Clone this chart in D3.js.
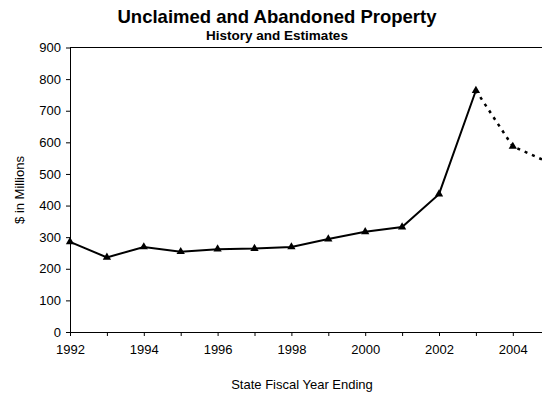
<!DOCTYPE html>
<html>
<head>
<meta charset="utf-8">
<script src="https://cdn.jsdelivr.net/npm/d3@7"></script>
<style>
  body { margin: 0; background: #fff; }
  svg { display: block; font-family: "Liberation Sans", Arial, sans-serif; }
</style>
</head>
<body>
<div id="chart"></div>
<script>
// values ($ millions)
var years = [1992, 1993, 1994, 1995, 1996, 1997, 1998, 1999, 2000, 2001, 2002, 2003];
var actual = [285, 236, 269, 254, 262, 264, 269, 294, 317, 332, 436, 764];
var estYears = [2003, 2004, 2005];
var estimate = [764, 587, 535];
var yTicks = [0, 100, 200, 300, 400, 500, 600, 700, 800, 900];
var xLabels = [1992, 1994, 1996, 1998, 2000, 2002, 2004];

var W = 542, H = 395;
var margin = {top: 47.5, left: 70, bottom: 63};

var svg = d3.select("#chart").append("svg")
    .attr("width", W)
    .attr("height", H);

var x = d3.scaleLinear()
    .domain([1992, 2005])
    .range([margin.left, margin.left + 13 * 36.9]);

var y = d3.scaleLinear()
    .domain([0, 900])
    .range([H - margin.bottom, margin.top]);

// top border of plot area
svg.append("line")
    .attr("x1", x(1992)).attr("x2", W)
    .attr("y1", y(900)).attr("y2", y(900))
    .attr("stroke", "#000").attr("stroke-width", 1);

var yAxis = svg.append("g")
    .attr("transform", "translate(" + x(1992) + ",0)")
    .call(d3.axisLeft(y).tickValues(yTicks).tickSize(4).tickPadding(5).tickSizeOuter(0));

var xAxis = svg.append("g")
    .attr("transform", "translate(0," + y(0) + ")")
    .call(d3.axisBottom(x)
        .tickValues(d3.range(1992, 2006))
        .tickSize(4).tickPadding(9).tickSizeOuter(0)
        .tickFormat(function (d) { return xLabels.indexOf(d) >= 0 ? d : ""; }));

xAxis.select(".domain").attr("d", "M" + x(1992) + ",0.5H" + W);

svg.selectAll(".tick text")
    .attr("font-family", "Liberation Sans, Arial, sans-serif")
    .attr("font-size", 13)
    .attr("fill", "#000");
svg.selectAll(".domain, .tick line").attr("stroke", "#000");

// lines
var line = d3.line()
    .x(function (d) { return x(d[0]); })
    .y(function (d) { return y(d[1]); });

svg.append("path")
    .datum(d3.zip(years, actual))
    .attr("d", line)
    .attr("fill", "none")
    .attr("stroke", "#000")
    .attr("stroke-width", 2);

svg.append("path")
    .datum(d3.zip(estYears, estimate))
    .attr("d", line)
    .attr("fill", "none")
    .attr("stroke", "#000")
    .attr("stroke-width", 2.5)
    .attr("stroke-dasharray", "3,5");

// triangle markers
var tri = d3.symbol().type(d3.symbolTriangle).size(30);
var pts = d3.zip(years, actual).concat([[estYears[1], estimate[1]]]);
svg.selectAll(".marker")
    .data(pts)
    .enter()
    .append("path")
    .attr("class", "marker")
    .attr("d", tri)
    .attr("transform", function (d) {
        return "translate(" + x(d[0]) + "," + y(d[1]) + ")";
    })
    .attr("fill", "#000");

// titles
svg.append("text")
    .attr("x", 277).attr("y", 23)
    .attr("text-anchor", "middle")
    .attr("font-size", 18.5).attr("font-weight", "bold")
    .text("Unclaimed and Abandoned Property");

svg.append("text")
    .attr("x", 277).attr("y", 39.5)
    .attr("text-anchor", "middle")
    .attr("font-size", 13.5).attr("font-weight", "bold")
    .text("History and Estimates");

svg.append("text")
    .attr("x", 302).attr("y", 389)
    .attr("text-anchor", "middle")
    .attr("font-size", 13)
    .text("State Fiscal Year Ending");

svg.append("text")
    .attr("transform", "translate(24,190) rotate(-90)")
    .attr("text-anchor", "middle")
    .attr("font-size", 13)
    .text("$ in Millions");
</script>
</body>
</html>
